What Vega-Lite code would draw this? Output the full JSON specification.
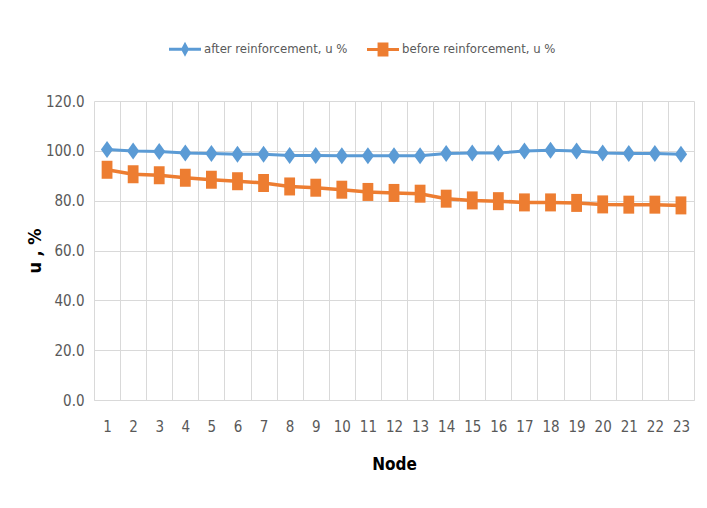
{
  "$schema": "https://vega.github.io/schema/vega-lite/v6.json",
  "autosize": {"type": "none"},
  "padding": {"left": 94, "top": 101, "right": 13, "bottom": 108},
  "width": 600,
  "height": 299,
  "background": "white",
  "config": {
    "view": {"stroke": null},
    "font": "DejaVu Sans Condensed, Liberation Sans, sans-serif",
    "axis": {"labelFont": "DejaVu Sans Condensed, Liberation Sans, sans-serif", "titleFont": "DejaVu Sans Condensed, Liberation Sans, sans-serif"}
  },
  "data": {
    "values": [
      {"node": 1, "series": "after reinforcement, u %", "u": 100.5},
      {"node": 2, "series": "after reinforcement, u %", "u": 99.9},
      {"node": 3, "series": "after reinforcement, u %", "u": 99.7},
      {"node": 4, "series": "after reinforcement, u %", "u": 99.1},
      {"node": 5, "series": "after reinforcement, u %", "u": 98.9},
      {"node": 6, "series": "after reinforcement, u %", "u": 98.6},
      {"node": 7, "series": "after reinforcement, u %", "u": 98.6},
      {"node": 8, "series": "after reinforcement, u %", "u": 98.1},
      {"node": 9, "series": "after reinforcement, u %", "u": 98.1},
      {"node": 10, "series": "after reinforcement, u %", "u": 98.0},
      {"node": 11, "series": "after reinforcement, u %", "u": 98.0},
      {"node": 12, "series": "after reinforcement, u %", "u": 98.0},
      {"node": 13, "series": "after reinforcement, u %", "u": 98.0},
      {"node": 14, "series": "after reinforcement, u %", "u": 98.9},
      {"node": 15, "series": "after reinforcement, u %", "u": 99.1},
      {"node": 16, "series": "after reinforcement, u %", "u": 99.1},
      {"node": 17, "series": "after reinforcement, u %", "u": 99.9},
      {"node": 18, "series": "after reinforcement, u %", "u": 100.2},
      {"node": 19, "series": "after reinforcement, u %", "u": 99.9},
      {"node": 20, "series": "after reinforcement, u %", "u": 99.1},
      {"node": 21, "series": "after reinforcement, u %", "u": 98.9},
      {"node": 22, "series": "after reinforcement, u %", "u": 98.9},
      {"node": 23, "series": "after reinforcement, u %", "u": 98.6},
      {"node": 1, "series": "before reinforcement, u %", "u": 92.4},
      {"node": 2, "series": "before reinforcement, u %", "u": 90.6},
      {"node": 3, "series": "before reinforcement, u %", "u": 90.2},
      {"node": 4, "series": "before reinforcement, u %", "u": 89.2},
      {"node": 5, "series": "before reinforcement, u %", "u": 88.4},
      {"node": 6, "series": "before reinforcement, u %", "u": 87.8},
      {"node": 7, "series": "before reinforcement, u %", "u": 87.1},
      {"node": 8, "series": "before reinforcement, u %", "u": 85.7},
      {"node": 9, "series": "before reinforcement, u %", "u": 85.2},
      {"node": 10, "series": "before reinforcement, u %", "u": 84.4},
      {"node": 11, "series": "before reinforcement, u %", "u": 83.5},
      {"node": 12, "series": "before reinforcement, u %", "u": 83.1},
      {"node": 13, "series": "before reinforcement, u %", "u": 82.8},
      {"node": 14, "series": "before reinforcement, u %", "u": 80.8},
      {"node": 15, "series": "before reinforcement, u %", "u": 80.1},
      {"node": 16, "series": "before reinforcement, u %", "u": 79.8},
      {"node": 17, "series": "before reinforcement, u %", "u": 79.3},
      {"node": 18, "series": "before reinforcement, u %", "u": 79.3},
      {"node": 19, "series": "before reinforcement, u %", "u": 79.1},
      {"node": 20, "series": "before reinforcement, u %", "u": 78.5},
      {"node": 21, "series": "before reinforcement, u %", "u": 78.4},
      {"node": 22, "series": "before reinforcement, u %", "u": 78.4},
      {"node": 23, "series": "before reinforcement, u %", "u": 78.1}
    ]
  },
  "encoding": {
    "x": {
      "field": "node",
      "type": "ordinal",
      "bandPosition": 0.5,
      "scale": {"type": "band", "paddingInner": 0, "paddingOuter": 0},
      "axis": {
        "title": "Node",
        "titleFontSize": 17,
        "titleFontWeight": "bold",
        "titleColor": "#000000",
        "titlePadding": 22,
        "labelAngle": 0,
        "labelFontSize": 15,
        "labelColor": "#595959",
        "labelPadding": 19,
        "ticks": false,
        "domain": true,
        "domainColor": "#D9D9D9",
        "domainWidth": 1,
        "grid": true,
        "gridColor": "#D9D9D9",
        "gridWidth": 1,
        "tickBand": "extent"
      }
    },
    "y": {
      "field": "u",
      "type": "quantitative",
      "scale": {"domain": [0, 120]},
      "axis": {
        "title": "u , %",
        "titleFontSize": 18,
        "titleFontWeight": "bold",
        "titleColor": "#000000",
        "titlePadding": 1,
        "values": [0, 20, 40, 60, 80, 100, 120],
        "format": ".1f",
        "labelFontSize": 15,
        "labelColor": "#595959",
        "labelPadding": 10,
        "ticks": false,
        "domain": false,
        "grid": true,
        "gridColor": "#D9D9D9",
        "gridWidth": 1
      }
    }
  },
  "layer": [
    {
      "transform": [{"filter": "datum.series === 'after reinforcement, u %'"}],
      "mark": {"type": "line", "color": "#5B9BD5", "strokeWidth": 3}
    },
    {
      "transform": [{"filter": "datum.series === 'before reinforcement, u %'"}],
      "mark": {"type": "line", "color": "#ED7D31", "strokeWidth": 3.5}
    },
    {
      "transform": [{"filter": "datum.series === 'after reinforcement, u %'"}],
      "mark": {"type": "point", "filled": true, "opacity": 1, "color": "#5B9BD5", "size": 289, "strokeWidth": 0, "shape": "M0,-1L0.72,0L0,1L-0.72,0Z"}
    },
    {
      "transform": [{"filter": "datum.series === 'before reinforcement, u %'"}],
      "mark": {"type": "point", "filled": true, "opacity": 1, "color": "#ED7D31", "size": 324, "strokeWidth": 0, "shape": "M-0.6,-1H0.6V1H-0.6Z"}
    },
    {
      "mark": {"type": "point", "filled": true, "opacity": 0, "size": 1024, "strokeWidth": 0},
      "encoding": {
        "color": {
          "field": "series",
          "type": "nominal",
          "scale": {"domain": ["after reinforcement, u %", "before reinforcement, u %"], "range": ["#5B9BD5", "#ED7D31"]},
          "legend": {
            "title": null,
            "orient": "none",
            "direction": "horizontal",
            "legendX": 75,
            "legendY": -68,
            "symbolSize": 1024,
            "symbolOpacity": 1,
            "symbolStrokeWidth": 0,
            "labelFont": "DejaVu Sans Condensed, Liberation Sans, sans-serif",
            "labelFontSize": 13,
            "labelLimit": 400,
            "labelColor": "#595959",
            "labelOffset": 3,
            "columnPadding": 19
          }
        },
        "shape": {
          "field": "series",
          "type": "nominal",
          "scale": {
            "domain": ["after reinforcement, u %", "before reinforcement, u %"],
            "range": [
              "M-1,-0.1H1V0.1H-1Z M0,-0.47L0.25,0L0,0.47L-0.25,0Z",
              "M-1,-0.1H1V0.1H-1Z M-0.34,-0.44H0.34V0.44H-0.34Z"
            ]
          },
          "legend": {
            "title": null,
            "orient": "none",
            "direction": "horizontal",
            "legendX": 75,
            "legendY": -68,
            "symbolSize": 1024,
            "symbolOpacity": 1,
            "symbolStrokeWidth": 0,
            "labelFont": "DejaVu Sans Condensed, Liberation Sans, sans-serif",
            "labelFontSize": 13,
            "labelLimit": 400,
            "labelColor": "#595959",
            "labelOffset": 3,
            "columnPadding": 19
          }
        }
      }
    }
  ]
}
